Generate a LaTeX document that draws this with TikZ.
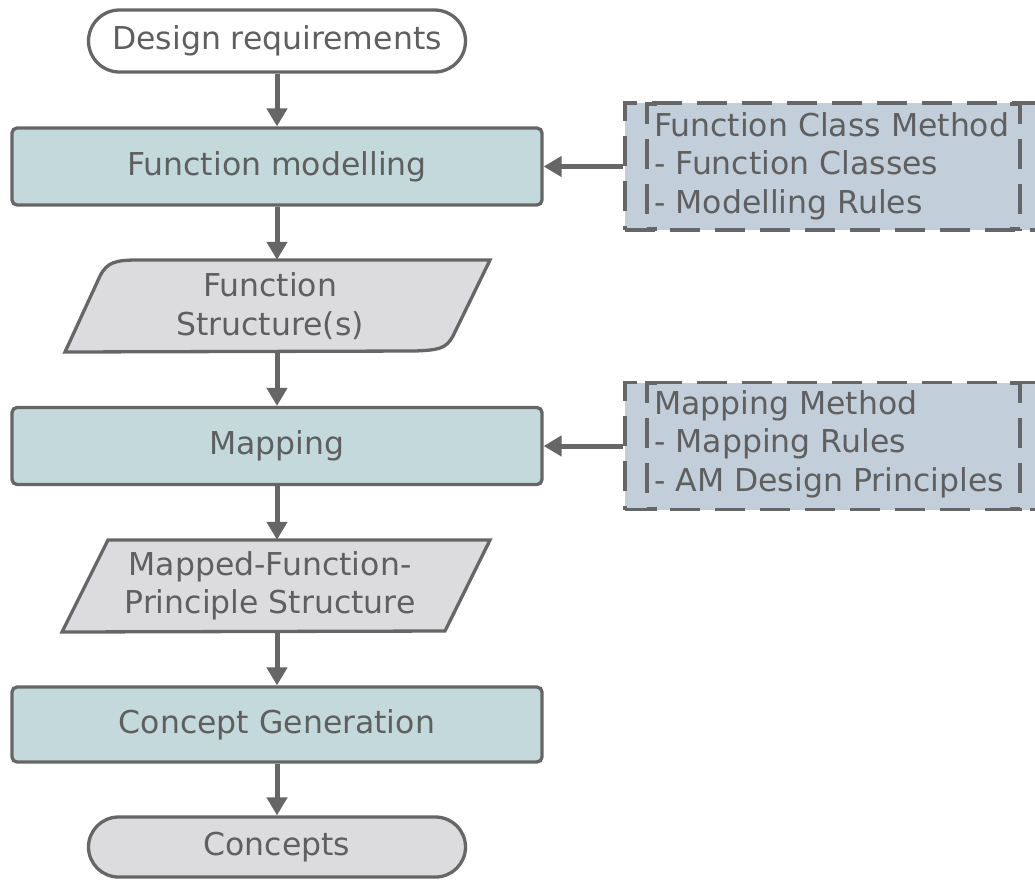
\documentclass[tikz,border=0pt]{standalone}
\usepackage{fontspec}
\setmainfont{DejaVu Sans}
\usetikzlibrary{arrows.meta}
\definecolor{ln}{HTML}{666666}
\definecolor{txt}{HTML}{5F5F5F}
\definecolor{procfill}{HTML}{C3D9DC}
\definecolor{iofill}{HTML}{DCDCDE}
\definecolor{notefill}{HTML}{C2CEDA}
\begin{document}
\begin{tikzpicture}[x=1pt,y=-1pt,
  font=\fontsize{31.5}{38.5}\selectfont, text=txt,
  outl/.style={draw=ln, line width=3.3pt},
  procbox/.style={outl, fill=procfill, rounded corners=5pt, minimum width=530pt, minimum height=77pt, inner sep=0pt},
  termbox/.style={outl, rounded corners=31pt, minimum width=377pt, minimum height=62pt, inner sep=0pt},
  iotext/.style={inner sep=0pt, align=center, minimum width=380pt, minimum height=92pt},
  arr/.style={draw=ln, line width=5pt, -{Triangle[width=20pt,length=18pt]}},
  notebox/.style={draw=ln, fill=notefill, line width=3.3pt, dash pattern=on 30pt off 15pt, minimum width=415pt, minimum height=127pt, inner sep=0pt},
  bracket/.style={draw=ln, line width=3.3pt, dash pattern=on 30pt off 15pt},
  notetext/.style={anchor=west, align=left, inner sep=0pt},
]
\useasboundingbox (0,0) rectangle (1035,879);

% terminal: design requirements
\node[termbox, fill=white] (dr) at (277,41) {Design requirements};

% process: function modelling
\node[procbox] (fm) at (277,166.5) {Function modelling};

% io: function structure(s)
\draw[outl, fill=iofill] (65,352) -- (100,276) .. controls (107,262) and (116,260) .. (138,260)
  -- (490,260) -- (453,336) .. controls (446,349) and (438,350) .. (415,351) -- cycle;
\node[iotext] (fs) at (270,306) {Function\\Structure(s)};

% process: mapping
\node[procbox] (mp) at (277,446) {Mapping};

% io: mapped-function-principle structure
\draw[outl, fill=iofill] (62,632) -- (108,540) -- (490,540) -- (445,631) -- cycle;
\node[iotext] (mf) at (270,586) {Mapped-Function-\\Principle Structure};

% process: concept generation
\node[procbox, minimum height=75pt] (cg) at (277,724.5) {Concept Generation};

% terminal: concepts
\node[termbox, fill=iofill, minimum height=60pt, rounded corners=30pt] (cc) at (277,847) {Concepts};

% note 1
\node[notebox] (n1) at (832.5,166.5) {};
\draw[bracket] (657,104) -- (647,104) -- (647,229) -- (657,229);
\draw[bracket] (1010,104) -- (1020,104) -- (1020,229) -- (1010,229);
\node[notetext] (t1) at (654,166) {Function Class Method\\- Function Classes\\- Modelling Rules};

% note 2
\node[notebox] (n2) at (832.5,446) {};
\draw[bracket] (657,383) -- (647,383) -- (647,509) -- (657,509);
\draw[bracket] (1010,383) -- (1020,383) -- (1020,509) -- (1010,509);
\node[notetext] (t2) at (654,444) {Mapping Method\\- Mapping Rules\\- AM Design Principles};

% connectors
\draw[arr] (dr) -- (fm);
\draw[arr] (fm.south) -- (fm.south |- fs.north);
\draw[arr] (fm.south |- fs.south) -- (mp.north);
\draw[arr] (mp.south) -- (mp.south |- mf.north);
\draw[arr] (mp.south |- mf.south) -- (cg.north);
\draw[arr] (cg) -- (cc);
\draw[arr] (n1) -- (fm);
\draw[arr] (n2) -- (mp);
\end{tikzpicture}
\end{document}
